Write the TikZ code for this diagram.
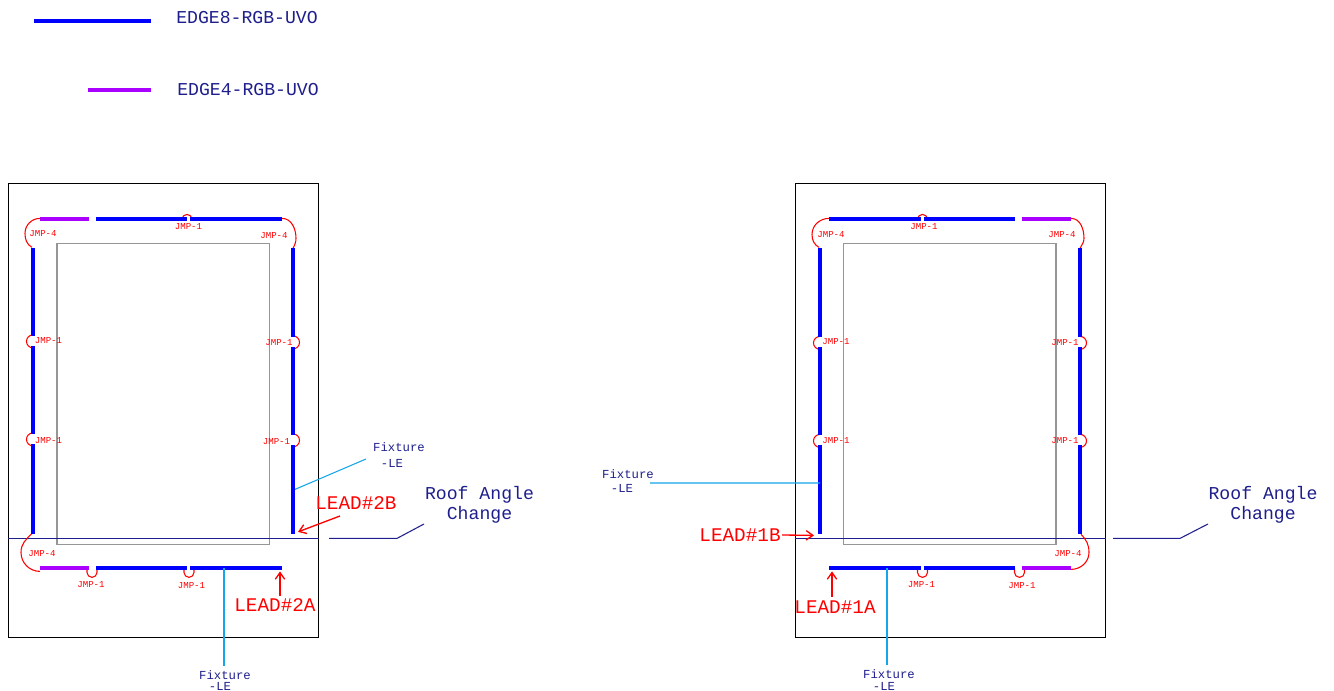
\documentclass[tikz,border=0pt]{standalone}
\usepackage{fontspec}
\setmainfont{Liberation Mono}
\usetikzlibrary{arrows.meta,positioning}
\definecolor{ledblue}{RGB}{0,0,255}
\definecolor{ledpurple}{RGB}{170,0,255}
\definecolor{cadnavy}{RGB}{30,30,140}
\definecolor{cadcyan}{RGB}{20,165,235}
\definecolor{cadgrey}{RGB}{150,150,150}
\tikzstyle{edgeeight} = [line width=3pt,color=ledblue]
\tikzstyle{edgefour} = [line width=3pt,color=ledpurple]
\tikzstyle{jmpwire} = [line width=0.8pt,color=red]
\tikzstyle{jmptext} = [inner sep=0pt,text=red,font=\fontsize{6.8}{7}\selectfont]
\tikzstyle{leadtext} = [inner sep=1pt,text=red,font=\fontsize{14.5}{15}\selectfont]
\tikzstyle{leadarrow} = [line width=1pt,red,-{Straight Barb[length=5pt,width=7pt]}]
\tikzstyle{fixtext} = [inner sep=0pt,text=cadnavy,font=\fontsize{9.2}{10}\selectfont]
\tikzstyle{fixline} = [line width=0.8pt,color=cadcyan]
\tikzstyle{roofline} = [line width=0.8pt,color=cadnavy]
\tikzstyle{rooftext} = [inner sep=0pt,text=cadnavy,font=\fontsize{13.6}{14}\selectfont]
\tikzstyle{legendtext} = [inner sep=0pt,text=cadnavy,font=\fontsize{13.6}{14}\selectfont]

\begin{document}
\begin{tikzpicture}[x=0.75pt,y=0.75pt]
\useasboundingbox (0,0) rectangle (1334,691);

% Legend
\coordinate (legA) at (34,670);
\coordinate (legB) at (151,670);
\coordinate (legC) at (88,601);
\coordinate (legD) at (151,601);
\draw[edgeeight] (legA) -- (legB);
\draw[edgefour] (legC) -- (legD);
\node[legendtext] (edge8) at (247,673) {EDGE8-RGB-UVO};
\node[legendtext] (edge4) at (248,601) {EDGE4-RGB-UVO};

% Lead 2 panel
\begin{scope}[shift={(8,53.6)}]
\draw[line width=0.75pt] (0,0) rectangle (310.5,454);
\draw[line width=0.8pt,cadgrey] (49,93) rectangle (261.5,394);
\draw[roofline] (0,99) -- (310.5,99);
% jumpers
\draw[jmpwire] (32,419) to[out=180,in=90] (17,404) to[out=270,in=150] (24,390);
\draw[jmpwire] (274,419) to[out=0,in=90] (288,399) to[out=270,in=65] (285,389);
\draw[jmpwire] (24,104) to[out=225,in=90] (13,85) to[out=270,in=180] (32,66);
\draw[jmpwire] (174,418) arc (180:0:5);
\draw[jmpwire] (79,69) -- (79,65) arc (180:360:5) -- (89,69);
\draw[jmpwire] (176,69) -- (176,65) arc (180:360:5) -- (186,69);
\draw[jmpwire] (25,302.5) arc (90:270:6.5);
\draw[jmpwire] (25,204.5) arc (90:270:6.5);
\draw[jmpwire] (285,301.5) arc (90:-90:6.5);
\draw[jmpwire] (285,203.5) arc (90:-90:6.5);
% strips
\draw[edgefour] (32,418) -- (81,418);
\draw[edgeeight] (88,418) -- (179,418);
\draw[edgeeight] (182,418) -- (274,418);
\draw[edgeeight] (25,389) -- (25,301);
\draw[edgeeight] (25,291) -- (25,203);
\draw[edgeeight] (25,193) -- (25,103);
\draw[edgeeight] (285,389) -- (285,300);
\draw[edgeeight] (285,290) -- (285,202);
\draw[edgeeight] (285,192) -- (285,103);
\draw[edgefour] (32,69) -- (81,69);
\draw[edgeeight] (88,69) -- (179,69);
\draw[edgeeight] (182,69) -- (274,69);
% jumper labels
\node[jmptext] (l1) at (180.5,410.5) {JMP-1};
\node[jmptext] (l2) at (35,404) {JMP-4};
\node[jmptext] (l3) at (266,402) {JMP-4};
\node[jmptext] (l4) at (40.5,297) {JMP-1};
\node[jmptext] (l5) at (40.5,197) {JMP-1};
\node[jmptext] (l6) at (271,295) {JMP-1};
\node[jmptext] (l7) at (268.5,196) {JMP-1};
\node[jmptext] (l8) at (34,84) {JMP-4};
\node[jmptext] (l9) at (83,53) {JMP-1};
\node[jmptext] (l10) at (183.5,52) {JMP-1};
\coordinate (stripL) at (287,148);
\coordinate (stripM) at (216,69);
\coordinate (tipB) at (290,105.5);
\coordinate (tipA) at (272,66);
\end{scope}

% Lead 1 panel
\begin{scope}[shift={(795,53.6)}]
\draw[line width=0.75pt] (0,0) rectangle (310.5,454);
\draw[line width=0.8pt,cadgrey] (48.5,93) rectangle (261,394);
\draw[roofline] (0,99) -- (310.5,99);
% jumpers
\draw[jmpwire] (34,419) to[out=180,in=90] (17,403) to[out=270,in=150] (24,390);
\draw[jmpwire] (276,419) to[out=0,in=90] (289,399) to[out=270,in=65] (285,389);
\draw[jmpwire] (286,103) to[out=-45,in=90] (294,85) to[out=270,in=0] (276,68);
\draw[jmpwire] (122.5,418) arc (180:0:5);
\draw[jmpwire] (122.5,69) -- (122.5,65) arc (180:360:5) -- (132.5,69);
\draw[jmpwire] (219.5,69) -- (219.5,65) arc (180:360:5) -- (229.5,69);
\draw[jmpwire] (25,301) arc (90:270:6.5);
\draw[jmpwire] (25,203) arc (90:270:6.5);
\draw[jmpwire] (285,301) arc (90:-90:6.5);
\draw[jmpwire] (285,203) arc (90:-90:6.5);
% strips
\draw[edgeeight] (34,418) -- (126,418);
\draw[edgeeight] (129,418) -- (220,418);
\draw[edgefour] (227,418) -- (276,418);
\draw[edgeeight] (25,389) -- (25,300);
\draw[edgeeight] (25,290) -- (25,202);
\draw[edgeeight] (25,192) -- (25,103);
\draw[edgeeight] (285,389) -- (285,300);
\draw[edgeeight] (285,290) -- (285,202);
\draw[edgeeight] (285,192) -- (285,103);
\draw[edgeeight] (34,69) -- (126,69);
\draw[edgeeight] (129,69) -- (220,69);
\draw[edgefour] (227,69) -- (276,69);
% jumper labels
\node[jmptext] (r1) at (129,411) {JMP-1};
\node[jmptext] (r2) at (36,403) {JMP-4};
\node[jmptext] (r3) at (267,403) {JMP-4};
\node[jmptext] (r4) at (41,296) {JMP-1};
\node[jmptext] (r5) at (41,197) {JMP-1};
\node[jmptext] (r6) at (270,295) {JMP-1};
\node[jmptext] (r7) at (270,197) {JMP-1};
\node[jmptext] (r8) at (273,84) {JMP-4};
\node[jmptext] (r9) at (126.5,53) {JMP-1};
\node[jmptext] (r10) at (227,52) {JMP-1};
\coordinate (stripR) at (25,154.4);
\coordinate (stripN) at (92,69);
\coordinate (tipD) at (19,102);
\coordinate (tipC) at (37,66);
\end{scope}

% Roof labels
\node[rooftext] (roofA) at (479.5,196) {Roof Angle};
\node[rooftext] (chgA) at (479.5,176) {Change};
\node[rooftext] (roofB) at (1263,196) {Roof Angle};
\node[rooftext] (chgB) at (1263,176) {Change};
\coordinate (roofAs) at (329,152.6);
\coordinate (roofAe) at (424,167);
\coordinate (roofBs) at (1113,152.6);
\coordinate (roofBe) at (1208,167);
\draw[roofline] (roofAs) -- (397,152.6) -- (roofAe);
\draw[roofline] (roofBs) -- (1180,152.6) -- (roofBe);

% Fixture labels
\node[fixtext] (fixU) at (399,244) {Fixture};
\node[fixtext] (leU) at (392,228) {-LE};
\node[fixtext] (fixD) at (225,16) {Fixture};
\node[fixtext] (leD) at (220,5) {-LE};
\node[fixtext] (fixV) at (628,217) {Fixture};
\node[fixtext] (leV) at (622,203) {-LE};
\node[fixtext] (fixW) at (889,17) {Fixture};
\node[fixtext] (leW) at (884,5) {-LE};
\coordinate (fixUe) at (366,232);
\coordinate (fixDe) at (224,25);
\coordinate (fixVe) at (650,208);
\coordinate (fixWe) at (887,26);
\draw[fixline] (stripL) -- (fixUe);
\draw[fixline] (stripM) -- (fixDe);
\draw[fixline] (stripR) -- (fixVe);
\draw[fixline] (stripN) -- (fixWe);

% Lead labels
\node[leadtext] (lead2B) at (356,188) {LEAD\#2B};
\node[leadtext] (lead2A) at (275,86) {LEAD\#2A};
\node[leadtext] (lead1B) at (740,156) {LEAD\#1B};
\node[leadtext] (lead1A) at (835,84) {LEAD\#1A};
\coordinate (lead2Bs) at (340,175);
\coordinate (lead2As) at (280,95);
\coordinate (lead1As) at (832,94);
\draw[leadarrow] (lead2Bs) -- (tipB);
\draw[leadarrow] (lead2As) -- (tipA);
\draw[leadarrow] (lead1B.east) -- (tipD);
\draw[leadarrow] (lead1As) -- (tipC);
\end{tikzpicture}
\end{document}
